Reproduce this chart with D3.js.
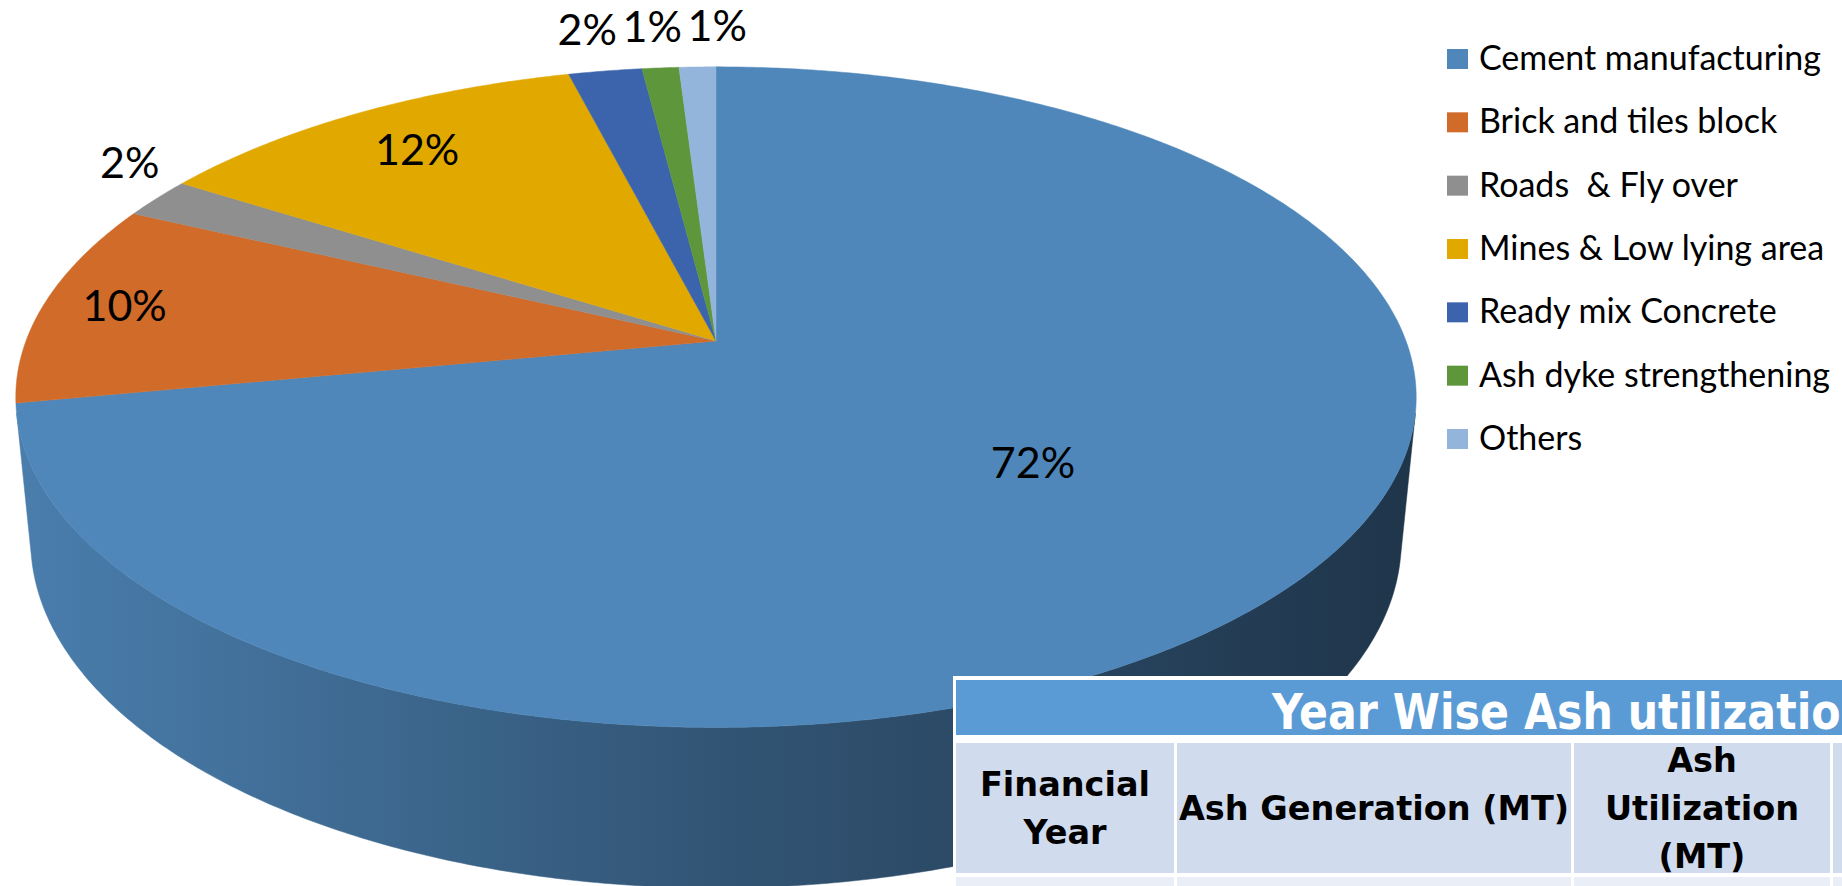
<!DOCTYPE html>
<html>
<head>
<meta charset="utf-8">
<script src="https://cdn.jsdelivr.net/npm/d3@7"></script>
<style>
  html, body { margin: 0; padding: 0; background: #fff; overflow: hidden; }
  svg { display: block; }
  text { white-space: pre; }
</style>
</head>
<body>
<svg id="chart" width="1842" height="886"></svg>
<script>
const width = 1842;
const height = 886;

// --- data ---
const categories = [
  "Cement manufacturing",
  "Brick and tiles block",
  "Roads  & Fly over",
  "Mines & Low lying area",
  "Ready mix Concrete",
  "Ash dyke strengthening",
  "Others"
];
const shares = [72, 10, 2, 12, 2, 1, 1];
const colors = ["#4f87ba", "#d16b29", "#8f8f8f", "#e1a900", "#3c64ac", "#5e963c", "#93b5dc"];
// where each label sits: fraction of radius inside the slice, or null = outside
const labelRadius = [0.56, 0.88, null, 0.82, null, null, null];

const tableTitle = "Year Wise Ash utilization";
const tableHeaders = [["Financial", "Year"], ["Ash Generation (MT)"], ["Ash", "Utilization", "(MT)"], [""]];

// --- 3d pie geometry (perspective view) ---
const cx = 716, cy = 341;
const phi = 27.7 * Math.PI / 180;
const dist = 5.21, focal = 3595, thick = 0.237;

function project(a, rho, y0) {
  const X = rho * Math.sin(a), Z = -rho * Math.cos(a);
  const depth = dist - y0 * Math.sin(phi) - Z * Math.cos(phi);
  const v = y0 * Math.cos(phi) - Z * Math.sin(phi);
  return [cx + focal * X / depth, cy - focal * v / depth];
}

function arcPoints(a0, a1, y0) {
  const n = Math.max(2, Math.ceil((a1 - a0) / (Math.PI / 360)));
  return d3.range(n + 1).map(i => project(a0 + (a1 - a0) * i / n, 1, y0));
}

// the side wall only faces the camera between these angles
const visA = Math.acos(-1 / (dist * Math.cos(phi)));
const visB = 2 * Math.PI - visA;

const svg = d3.select("#chart");
const defs = svg.append("defs");

const pie = d3.pie().sort(null).value(d => d.value);
const slices = pie(categories.map((c, i) => ({ name: c, value: shares[i], color: colors[i], lr: labelRadius[i] })));

const line = d3.line();

// side gradients
slices.forEach((s, i) => {
  const g = defs.append("linearGradient")
    .attr("id", "side" + i)
    .attr("gradientUnits", "userSpaceOnUse")
    .attr("x1", 12).attr("x2", 1413).attr("y1", 0).attr("y2", 0);
  g.append("stop").attr("offset", "0%").attr("stop-color", d3.color(s.data.color).darker(0.2));
  g.append("stop").attr("offset", "50%").attr("stop-color", d3.color(s.data.color).darker(1.3));
  g.append("stop").attr("offset", "100%").attr("stop-color", d3.color(s.data.color).darker(2.6));
});

const pieG = svg.append("g");

// sides (front-facing part only)
const sides = slices
  .map((s, i) => ({ i, a0: Math.max(s.startAngle, visA), a1: Math.min(s.endAngle, visB) }))
  .filter(d => d.a1 > d.a0);

pieG.selectAll("path.side")
  .data(sides)
  .join("path")
  .attr("class", "side")
  .attr("d", d => {
    const top = arcPoints(d.a0, d.a1, 0);
    const bot = arcPoints(d.a0, d.a1, -thick).reverse();
    return line(top.concat(bot)) + "Z";
  })
  .attr("fill", d => `url(#side${d.i})`)
  .attr("stroke", d => `url(#side${d.i})`)
  .attr("stroke-width", 0.5);

// top faces
pieG.selectAll("path.top")
  .data(slices)
  .join("path")
  .attr("class", "top")
  .attr("d", s => line([[cx, cy]].concat(arcPoints(s.startAngle, s.endAngle, 0))) + "Z")
  .attr("fill", s => s.data.color)
  .attr("stroke", s => s.data.color)
  .attr("stroke-width", 0.5);

// labels
const labelFont = 43;
const labels = slices.map(s => {
  const mid = (s.startAngle + s.endAngle) / 2;
  const txt = Math.round(s.data.value) + "%";
  if (s.data.lr !== null) {
    const [x, y] = project(mid, s.data.lr, 0);
    return { txt, x, y, out: false };
  }
  const p = project(mid, 1, 0);
  const p1 = project(mid + 0.001, 1, 0);
  let nx = (p1[1] - p[1]), ny = -(p1[0] - p[0]);
  const len = Math.hypot(nx, ny);
  nx /= len; ny /= len;
  const w = txt.length * 0.6 * labelFont, h = 30, gap = 26;
  return { txt, x: p[0] + nx * (gap + w / 2), y: p[1] + ny * (gap + h / 2), out: true };
});

// spread overlapping outside labels sideways
const outside = labels.filter(l => l.out).sort((a, b) => a.x - b.x);
for (let k = 0; k < 60; k++) {
  for (let i = 1; i < outside.length; i++) {
    const a = outside[i - 1], b = outside[i];
    if (Math.abs(a.y - b.y) < 32 && b.x - a.x < 65) {
      const push = (65 - (b.x - a.x)) / 2;
      a.x -= push; b.x += push;
    }
  }
}

svg.append("g")
  .selectAll("text")
  .data(labels)
  .join("text")
  .attr("x", d => d.x)
  .attr("y", d => d.y + 15)
  .attr("text-anchor", "middle")
  .attr("font-family", "Lato, 'Open Sans', sans-serif")
  .attr("font-size", labelFont)
  .attr("fill", "#000")
  .text(d => d.txt);

// legend
const legendY = d3.scalePoint().domain(categories).range([58, 438]);
const legend = svg.append("g");
const item = legend.selectAll("g")
  .data(slices)
  .join("g")
  .attr("transform", s => `translate(1447,${legendY(s.data.name)})`);
item.append("rect")
  .attr("x", 0).attr("y", -9)
  .attr("width", 21).attr("height", 20)
  .attr("fill", s => s.data.color);
item.append("text")
  .attr("x", 32).attr("y", 12)
  .attr("font-family", "Lato, 'Open Sans', sans-serif")
  .attr("font-size", 34)
  .attr("fill", "#000")
  .text(s => s.data.name);

// table
const table = svg.append("g");
table.append("rect")
  .attr("x", 953).attr("y", 676)
  .attr("width", width - 953).attr("height", height - 676)
  .attr("fill", "#fff");
table.append("rect")
  .attr("x", 956).attr("y", 680)
  .attr("width", width - 956).attr("height", 55)
  .attr("fill", "#5b9bd5");
table.append("text")
  .attr("transform", "translate(1272,729) scale(0.855,1)")
  .attr("font-family", "'DejaVu Sans', Verdana, sans-serif")
  .attr("font-weight", "bold")
  .attr("font-size", 50)
  .attr("fill", "#fff")
  .text(tableTitle);

const colEdges = [956, 1177, 1574, 1833, 2100];

tableHeaders.forEach((lines, i) => {
  const x0 = colEdges[i], x1 = colEdges[i + 1] - 3;
  table.append("rect")
    .attr("x", x0).attr("y", 743)
    .attr("width", x1 - x0).attr("height", 130)
    .attr("fill", "#d0dbee");
  table.append("rect")
    .attr("x", x0).attr("y", 877)
    .attr("width", x1 - x0).attr("height", 20)
    .attr("fill", "#e9eef7");
  const lh = 48;
  const first = 808 + 12 - (lines.length - 1) * lh / 2;
  lines.forEach((t, j) => {
    table.append("text")
      .attr("x", (x0 + x1) / 2)
      .attr("y", first + j * lh)
      .attr("text-anchor", "middle")
      .attr("font-family", "'DejaVu Sans', Verdana, sans-serif")
      .attr("font-weight", "bold")
      .attr("font-size", 33.5)
      .attr("fill", "#000")
      .text(t);
  });
});
</script>
</body>
</html>
